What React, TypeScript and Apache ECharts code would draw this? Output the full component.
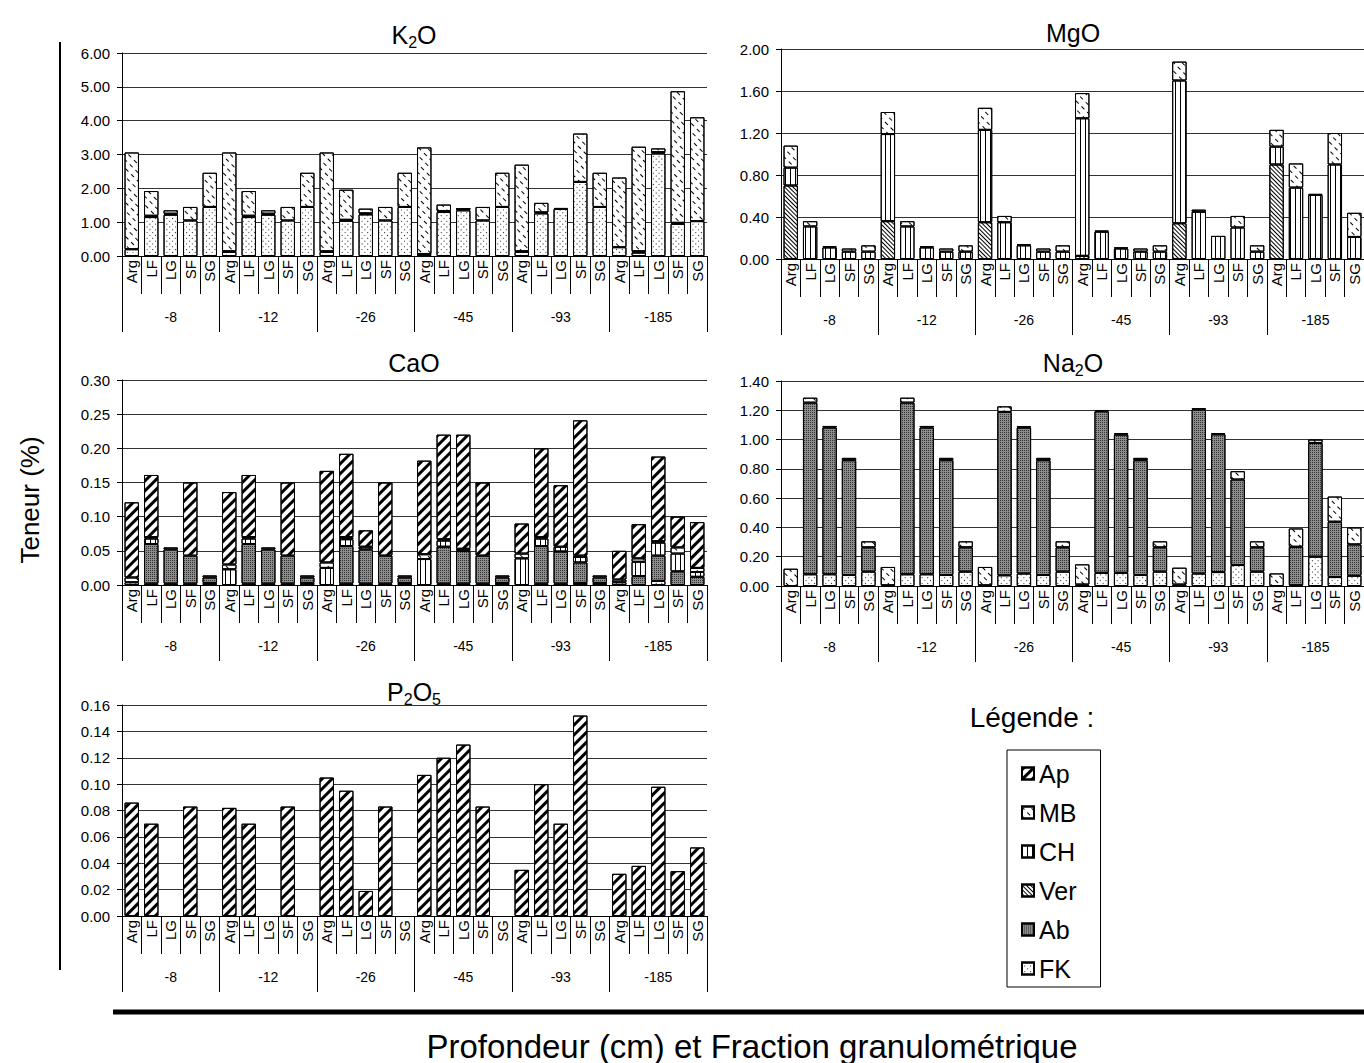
import React, { useEffect, useRef } from "react";
import * as echarts from "echarts";

const FONT = "'Liberation Sans', Arial, Helvetica, sans-serif";

const depths = ["-8", "-12", "-26", "-45", "-93", "-185"];
const fractions = ["Arg", "LF", "LG", "SF", "SG"];
// stacking order, bottom to top
const minerals = ["FK", "Ab", "Ver", "CH", "MB", "Ap"];
const legendOrder = ["Ap", "MB", "CH", "Ver", "Ab", "FK"];

// ---- K2O (%) ----
const k2oFK = [0.20, 1.15, 1.22, 1.05, 1.45, 0.12, 1.15, 1.22, 1.05, 1.45, 0.12, 1.04, 1.23, 1.05, 1.45, 0.04, 1.30, 1.35, 1.05, 1.45, 0.12, 1.26, 1.39, 2.19, 1.45, 0.26, 0.10, 3.03, 0.95, 1.03];
const k2oAb = [0, 0.04, 0.03, 0, 0, 0.02, 0.04, 0.03, 0, 0, 0.02, 0.03, 0.03, 0, 0, 0.02, 0.03, 0.04, 0, 0, 0.02, 0.03, 0.03, 0, 0, 0, 0.04, 0.04, 0.03, 0];
const k2oMB = [2.86, 0.73, 0.10, 0.40, 1.01, 2.92, 0.73, 0.10, 0.40, 1.01, 2.92, 0.89, 0.14, 0.40, 1.01, 3.15, 0.19, 0.01, 0.40, 1.01, 2.56, 0.28, 0, 1.43, 1.01, 2.06, 3.09, 0.11, 3.89, 3.07];

// ---- MgO (%) ----
const mgoVer = [0.70, 0, 0, 0, 0, 0.36, 0, 0, 0, 0, 0.35, 0, 0, 0, 0, 0.03, 0, 0, 0, 0, 0.34, 0, 0, 0, 0, 0.90, 0, 0, 0, 0];
const mgoCH = [0.17, 0.31, 0.11, 0.07, 0.07, 0.83, 0.31, 0.11, 0.07, 0.07, 0.88, 0.35, 0.13, 0.07, 0.07, 1.31, 0.26, 0.10, 0.07, 0.07, 1.36, 0.45, 0.22, 0.30, 0.07, 0.17, 0.68, 0.61, 0.90, 0.21];
const mgoMB = [0.21, 0.05, 0.01, 0.03, 0.06, 0.21, 0.05, 0.01, 0.03, 0.06, 0.21, 0.06, 0.01, 0.03, 0.06, 0.24, 0.01, 0.01, 0.03, 0.06, 0.18, 0.02, 0, 0.11, 0.06, 0.16, 0.23, 0.01, 0.30, 0.23];

// ---- CaO (%) ----
const caoFK = [0.004, 0.002, 0.002, 0.002, 0.003, 0, 0.002, 0.002, 0.002, 0.003, 0, 0.002, 0.002, 0.002, 0.003, 0, 0.002, 0.002, 0.002, 0.003, 0, 0.002, 0.002, 0.003, 0.003, 0.004, 0, 0.006, 0, 0];
const caoAb = [0, 0.058, 0.050, 0.041, 0.008, 0, 0.058, 0.050, 0.041, 0.008, 0, 0.055, 0.050, 0.041, 0.008, 0, 0.054, 0.048, 0.041, 0.008, 0, 0.055, 0.047, 0.030, 0.008, 0, 0.013, 0.037, 0.020, 0.012];
const caoCH = [0, 0.008, 0, 0, 0, 0.023, 0.008, 0, 0, 0, 0.025, 0.010, 0, 0, 0, 0.038, 0.009, 0, 0, 0, 0.039, 0.011, 0.007, 0.008, 0, 0, 0.021, 0.019, 0.026, 0.007];
const caoMB = [0.007, 0.002, 0.003, 0, 0.003, 0.007, 0.002, 0.003, 0, 0.003, 0.008, 0.003, 0.004, 0, 0.003, 0.007, 0.002, 0.003, 0, 0.003, 0.007, 0.002, 0, 0.002, 0.003, 0.004, 0.005, 0.002, 0.009, 0.006];
const caoAp = [0.110, 0.091, 0, 0.107, 0, 0.106, 0.091, 0, 0.107, 0, 0.134, 0.122, 0.024, 0.107, 0, 0.137, 0.153, 0.167, 0.107, 0, 0.044, 0.130, 0.090, 0.198, 0, 0.042, 0.050, 0.124, 0.045, 0.067];

// ---- Na2O (%) ----
const na2oFK = [0, 0.08, 0.08, 0.075, 0.098, 0.005, 0.08, 0.08, 0.075, 0.098, 0.005, 0.073, 0.085, 0.075, 0.098, 0.01, 0.09, 0.09, 0.075, 0.098, 0.01, 0.085, 0.095, 0.143, 0.098, 0, 0.005, 0.20, 0.061, 0.07];
const na2oAb = [0, 1.172, 1.002, 0.784, 0.166, 0, 1.172, 1.002, 0.784, 0.166, 0, 1.116, 0.997, 0.784, 0.166, 0, 1.103, 0.944, 0.784, 0.166, 0, 1.12, 0.941, 0.584, 0.166, 0, 0.263, 0.777, 0.378, 0.214];
const na2oMB = [0.118, 0.034, 0.011, 0.016, 0.041, 0.125, 0.034, 0.011, 0.016, 0.041, 0.125, 0.038, 0.009, 0.016, 0.041, 0.138, 0.009, 0.009, 0.016, 0.041, 0.115, 0.009, 0.007, 0.057, 0.041, 0.086, 0.125, 0.023, 0.172, 0.116];

// ---- P2O5 (%) ----
const p2o5Ap = [0.086, 0.070, 0, 0.083, 0, 0.082, 0.070, 0, 0.083, 0, 0.105, 0.095, 0.019, 0.083, 0, 0.107, 0.120, 0.130, 0.083, 0, 0.035, 0.100, 0.070, 0.152, 0, 0.032, 0.038, 0.098, 0.034, 0.052];

const yMax = [6, 2, 0.3, 1.4, 0.16];
const yStep = [1, 0.4, 0.05, 0.2, 0.02];
const titles = ["{a|K}{s|2}{a|O}", "{a|MgO}", "{a|CaO}", "{a|Na}{s|2}{a|O}", "{a|P}{s|2}{a|O}{s|5}"];
const seriesByChart: Record<string, number[]>[] = [
  { FK: k2oFK, Ab: k2oAb, MB: k2oMB },
  { Ver: mgoVer, CH: mgoCH, MB: mgoMB },
  { FK: caoFK, Ab: caoAb, CH: caoCH, MB: caoMB, Ap: caoAp },
  { FK: na2oFK, Ab: na2oAb, MB: na2oMB },
  { Ap: p2o5Ap },
];

const categories = depths.flatMap((d) => fractions.map((f) => d + "|" + f));

// layout (pixels)
const gridBoxes = [
  { left: 122, top: 53, width: 585, height: 203 },
  { left: 781, top: 49, width: 585, height: 210 },
  { left: 122, top: 380, width: 585, height: 205 },
  { left: 781, top: 381, width: 585, height: 205 },
  { left: 122, top: 705, width: 585, height: 211 },
];
const titlePos = [
  [414, 35],
  [1073, 33],
  [414, 363],
  [1073, 363],
  [414, 692],
];

const mineralStyle: Record<string, any> = {
  Ap: { color: "#ffffff", decal: { symbol: "rect", color: "#000", backgroundColor: null, dashArrayX: [1, 0], dashArrayY: [3, 4], rotation: -Math.PI / 4 } },
  MB: { color: "#ffffff", decal: { symbol: "rect", color: "#000", backgroundColor: null, dashArrayX: [4, 4], dashArrayY: [1, 5], rotation: Math.PI / 4 } },
  CH: { color: "#ffffff", decal: { symbol: "rect", color: "#000", backgroundColor: null, dashArrayX: [1, 4], dashArrayY: [1, 0], rotation: 0 } },
  Ver: { color: "#ffffff", decal: { symbol: "rect", color: "#000", backgroundColor: null, dashArrayX: [1, 0], dashArrayY: [1, 2], rotation: Math.PI / 4 } },
  Ab: { color: "#8c8c8c", decal: { symbol: "rect", color: "#333", backgroundColor: null, dashArrayX: [1, 1], dashArrayY: [1, 1], rotation: 0 } },
  FK: { color: "#ffffff", decal: { symbol: "rect", color: "#222", backgroundColor: null, dashArrayX: [1, 3], dashArrayY: [1, 3], rotation: Math.PI / 4 } },
};

function buildOption() {
  const grid: any[] = [];
  const xAxis: any[] = [];
  const yAxis: any[] = [];
  const series: any[] = [];
  const graphic: any[] = [];

  gridBoxes.forEach((g, i) => {
    grid.push({ ...g, containLabel: false });
    xAxis.push({
      type: "category",
      gridIndex: i,
      position: "bottom",
      data: categories,
      axisLine: { show: true, onZero: false, lineStyle: { color: "#000", width: 1 } },
      axisTick: { show: true, interval: 0, length: 38, lineStyle: { color: "#000" } },
      axisLabel: {
        interval: 0,
        rotate: 90,
        margin: 4,
        fontSize: 15,
        fontFamily: FONT,
        color: "#000",
        formatter: (v: string) => v.split("|")[1],
      },
      splitLine: { show: false },
    });
    xAxis.push({
      type: "category",
      gridIndex: i,
      position: "bottom",
      data: depths,
      axisLine: { show: false, onZero: false },
      axisTick: { show: true, interval: 0, length: 76, lineStyle: { color: "#000" } },
      axisLabel: { interval: 0, margin: 54, fontSize: 14, fontFamily: FONT, color: "#000" },
      splitLine: { show: false },
    });
    yAxis.push({
      type: "value",
      gridIndex: i,
      min: 0,
      max: yMax[i],
      interval: yStep[i],
      axisLine: { show: true, lineStyle: { color: "#000" } },
      axisTick: { show: true, length: 5, lineStyle: { color: "#000" } },
      axisLabel: { fontSize: 15, fontFamily: FONT, color: "#000", margin: 12, formatter: (v: number) => v.toFixed(2) },
      splitLine: { show: true, lineStyle: { color: "#333", width: 1 } },
    });
    const s = seriesByChart[i];
    minerals.forEach((m) => {
      if (!s[m]) return;
      series.push({
        type: "bar",
        name: m,
        stack: "stack" + i,
        xAxisIndex: 2 * i,
        yAxisIndex: i,
        barWidth: "74%",
        silent: true,
        data: s[m].map((v) => (v === 0 ? "-" : v)),
        itemStyle: { ...mineralStyle[m], borderColor: "#000", borderWidth: 1 },
      });
    });
    graphic.push({
      type: "text",
      x: titlePos[i][0],
      y: titlePos[i][1],
      style: {
        text: titles[i],
        align: "center",
        verticalAlign: "middle",
        fill: "#000",
        rich: {
          a: { fontSize: 25, fontFamily: FONT, fill: "#000" },
          s: { fontSize: 16, fontFamily: FONT, fill: "#000", padding: [14, 0, 0, 0] },
        },
      },
    });
  });

  graphic.push(
    {
      type: "line",
      shape: { x1: 60, y1: 42, x2: 60, y2: 970 },
      style: { stroke: "#000", lineWidth: 2 },
    },
    {
      type: "text",
      x: 30,
      y: 500,
      rotation: Math.PI / 2,
      style: { text: "Teneur (%)", align: "center", verticalAlign: "middle", fontSize: 26, fontFamily: FONT, fill: "#000" },
    },
    {
      type: "line",
      shape: { x1: 113, y1: 1012, x2: 1364, y2: 1012 },
      style: { stroke: "#000", lineWidth: 5 },
    },
    {
      type: "text",
      x: 752,
      y: 1046,
      style: {
        text: "Profondeur (cm) et Fraction granulométrique",
        align: "center",
        verticalAlign: "middle",
        fontSize: 33,
        fontFamily: FONT,
        fill: "#000",
      },
    },
    {
      type: "text",
      x: 1032,
      y: 717,
      style: { text: "Légende :", align: "center", verticalAlign: "middle", fontSize: 28, fontFamily: FONT, fill: "#000" },
    }
  );

  return {
    animation: false,
    backgroundColor: "#ffffff",
    grid,
    xAxis,
    yAxis,
    series,
    graphic,
    legend: {
      data: legendOrder,
      orient: "vertical",
      left: 1007,
      top: 750,
      icon: "rect",
      itemWidth: 12,
      itemHeight: 12,
      itemGap: 14,
      selectedMode: false,
      borderColor: "#000",
      borderWidth: 1,
      padding: [11, 24, 6, 14],
      textStyle: { fontSize: 25, fontFamily: FONT, color: "#000" },
    },
  };
}

export default function App() {
  const ref = useRef<HTMLDivElement>(null);
  useEffect(() => {
    if (!ref.current) return;
    const chart = echarts.init(ref.current, undefined, { renderer: "svg" });
    chart.setOption(buildOption() as any);
    return () => chart.dispose();
  }, []);
  return (
    <div
      ref={ref}
      style={{ position: "absolute", left: 0, top: 0, width: 1364, height: 1063, background: "#fff" }}
    />
  );
}
